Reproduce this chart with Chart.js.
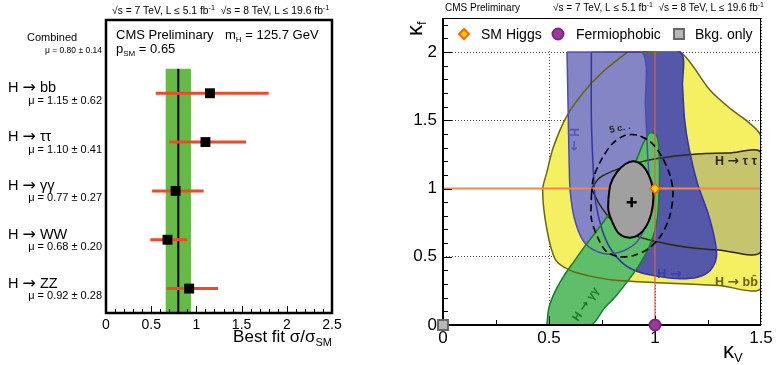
<!DOCTYPE html>
<html>
<head>
<meta charset="utf-8">
<script src="https://cdn.jsdelivr.net/npm/chart.js@4.4.1/dist/chart.umd.min.js"></script>
<style>
  body { margin: 0; background: #fff; }
  #left { position: absolute; left: 0; top: 0; }
  #right { position: absolute; left: 390px; top: 0; }
</style>
</head>
<body>
<canvas id="left" width="390" height="365"></canvas>
<canvas id="right" width="388" height="365"></canvas>
<script>
// ---- left panel: signal strength per channel
const channelNames = ["H \u2192 bb", "H \u2192 \u03c4\u03c4", "H \u2192 \u03b3\u03b3", "H \u2192 WW", "H \u2192 ZZ"];
const channelMuText = ["\u03bc = 1.15 \u00b1 0.62", "\u03bc = 1.10 \u00b1 0.41", "\u03bc = 0.77 \u00b1 0.27", "\u03bc = 0.68 \u00b1 0.20", "\u03bc = 0.92 \u00b1 0.28"];
const channelMu = [1.15, 1.10, 0.77, 0.68, 0.92];
const channelLow = [0.55, 0.70, 0.51, 0.49, 0.67];
const channelHigh = [1.80, 1.55, 1.08, 0.90, 1.24];
const channelRow = [4.5, 3.5, 2.5, 1.5, 0.5];
const combinedMu = 0.80;
const combinedLow = 0.66;
const combinedHigh = 0.94;
const combinedRow = 5.5;
const combinedText = "\u03bc = 0.80 \u00b1 0.14";
const muTicks = [0, 0.5, 1, 1.5, 2, 2.5];

// ---- right panel: kappa_V vs kappa_f contours
const kvTicks = [0, 0.5, 1, 1.5];
const kfTicks = [0, 0.5, 1, 1.5, 2];
const bbRegion = [[0.87, 2.0], [1.0, 2.0], [1.12, 2.0], [1.26, 1.72], [1.36, 1.58], [1.43, 1.50], [1.50, 1.38], [1.50, 0.80], [1.50, 0.27], [1.30, 0.29], [1.01, 0.31], [0.80, 0.33], [0.69, 0.36], [0.60, 0.40], [0.53, 0.48], [0.49, 0.70], [0.47, 0.99], [0.49, 1.12], [0.52, 1.30], [0.58, 1.52], [0.66, 1.70], [0.75, 1.85], [0.87, 2.0]];
const tautauRegion = [[0.70, 1.0], [0.74, 1.08], [0.82, 1.14], [0.92, 1.19], [1.01, 1.22], [1.17, 1.25], [1.35, 1.26], [1.50, 1.26], [1.50, 0.54], [1.30, 0.55], [1.15, 0.57], [1.01, 0.61], [0.88, 0.67], [0.80, 0.76], [0.74, 0.88], [0.70, 1.0]];
const zzRegion = [[0.70, 2.0], [0.70, 1.5], [0.71, 1.1], [0.72, 0.9], [0.75, 0.70], [0.79, 0.56], [0.85, 0.45], [0.92, 0.39], [1.00, 0.36], [1.10, 0.34], [1.20, 0.35], [1.26, 0.40], [1.29, 0.50], [1.28, 0.64], [1.25, 0.82], [1.20, 1.04], [1.16, 1.30], [1.14, 1.50], [1.13, 1.75], [1.12, 2.0], [0.90, 2.0], [0.70, 2.0]];
const wwRegion = [[0.585, 2.0], [0.59, 1.6], [0.595, 1.2], [0.60, 0.98], [0.62, 0.78], [0.66, 0.62], [0.71, 0.55], [0.78, 0.52], [0.86, 0.55], [0.92, 0.62], [0.96, 0.76], [0.975, 0.98], [0.965, 1.25], [0.955, 1.6], [0.94, 2.0], [0.75, 2.0], [0.585, 2.0]];
const ggRegion = [[0.49, 0.0], [0.50, 0.13], [0.53, 0.25], [0.57, 0.36], [0.62, 0.47], [0.67, 0.58], [0.73, 0.70], [0.80, 0.85], [0.86, 1.02], [0.91, 1.20], [0.95, 1.35], [0.98, 1.41], [1.01, 1.38], [1.02, 1.22], [1.02, 1.0], [1.01, 0.77], [0.98, 0.60], [0.93, 0.45], [0.88, 0.34], [0.82, 0.22], [0.76, 0.12], [0.70, 0.0], [0.60, 0.0], [0.49, 0.0]];
const comb68 = [[0.78, 0.92], [0.79, 1.03], [0.82, 1.12], [0.86, 1.18], [0.90, 1.20], [0.94, 1.17], [0.97, 1.10], [0.99, 1.00], [0.99, 0.88], [0.97, 0.76], [0.93, 0.67], [0.88, 0.64], [0.83, 0.67], [0.80, 0.75], [0.78, 0.84], [0.78, 0.92]];
const comb95 = [[0.70, 0.95], [0.71, 1.08], [0.75, 1.22], [0.80, 1.33], [0.86, 1.39], [0.92, 1.39], [0.98, 1.34], [1.03, 1.24], [1.07, 1.10], [1.085, 0.97], [1.07, 0.80], [1.03, 0.66], [0.97, 0.56], [0.90, 0.51], [0.83, 0.50], [0.77, 0.54], [0.73, 0.64], [0.70, 0.78], [0.70, 0.95]];
const bestFit = [0.89, 0.90];
const smPoint = [1, 1];
const fermiophobicPoint = [1, 0];
const bkgOnlyPoint = [0, 0];

const FONT = "'Liberation Sans', Arial, Helvetica, sans-serif";
const ARROW_FONT = "'DejaVu Sans', sans-serif";
Chart.defaults.font.family = FONT;
Chart.defaults.color = "#000";

function pts(list) {
    return list.map(p => ({x: p[0], y: p[1]}));
}

// parts: [text, size, dy, weight, family]
function richText(ctx, x, y, parts, align) {
    const setFont = p => { ctx.font = (p[3] || "") + " " + p[1] + "px " + (p[4] || FONT); };
    let w = 0;
    parts.forEach(p => { setFont(p); w += ctx.measureText(p[0]).width; });
    let cx = align === "right" ? x - w : x;
    ctx.textAlign = "left";
    ctx.textBaseline = "alphabetic";
    parts.forEach(p => {
        setFont(p);
        ctx.fillText(p[0], cx, y + (p[2] || 0));
        cx += ctx.measureText(p[0]).width;
    });
}

// splits a label on the arrow so the arrow gets a font with a full-size glyph
function arrowParts(text, size, weight) {
    const bits = text.split("\u2192");
    if (bits.length < 2) return [[text, size, 0, weight]];
    return [[bits[0], size, 0, weight], ["\u2192", size * 1.1, 0, weight, ARROW_FONT], [bits[1], size, 0, weight]];
}

function rotText(ctx, x, y, angle, parts) {
    ctx.save();
    ctx.translate(x, y);
    ctx.rotate(angle);
    richText(ctx, 0, 0, parts);
    ctx.restore();
}

const energyParts = size => [
    ["\u221As = 7 TeV, L \u2264 5.1 fb", size], ["-1", size * 0.7, -4],
    ["  \u221As = 8 TeV, L \u2264 19.6 fb", size], ["-1", size * 0.7, -4]
];

// ---------------- left chart
const leftDecor = {
    id: "leftDecor",
    afterDraw(chart) {
        const ctx = chart.ctx;
        const a = chart.chartArea;
        const xs = chart.scales.x, ys = chart.scales.y;
        ctx.save();
        // inward ticks on the bottom axis
        ctx.strokeStyle = "#000";
        ctx.lineWidth = 1;
        for (let i = 0; i <= 25; i++) {
            const px = Math.round(xs.getPixelForValue(i / 10)) + 0.5;
            const len = i % 5 === 0 ? 7 : 4;
            ctx.beginPath();
            ctx.moveTo(px, a.bottom);
            ctx.lineTo(px, a.bottom - len);
            ctx.stroke();
        }
        // frame
        ctx.lineWidth = 2.5;
        ctx.strokeRect(a.left, a.top, a.right - a.left, a.bottom - a.top);

        ctx.fillStyle = "#000";
        richText(ctx, 112, 14, energyParts(10.3));
        richText(ctx, 116, 39, [["CMS Preliminary", 13]]);
        richText(ctx, 225, 39, [["m", 13], ["H", 8, 3], [" = 125.7 GeV", 13]]);
        richText(ctx, 116, 53, [["p", 13], ["SM", 8, 3], [" = 0.65", 13]]);

        const cy = ys.getPixelForValue(combinedRow);
        richText(ctx, 27, cy - 3, [["Combined", 11]]);
        richText(ctx, 102, cy + 8.5, [[combinedText, 8.5]], "right");
        channelNames.forEach((name, i) => {
            const py = ys.getPixelForValue(channelRow[i]);
            richText(ctx, 8, py - 1, arrowParts(name, 14.5));
            richText(ctx, 102, py + 10.5, [[channelMuText[i], 11]], "right");
        });
        richText(ctx, a.right, 342, [["Best fit \u03c3/\u03c3", 17], ["SM", 11, 4]], "right");
        ctx.restore();
    }
};

const leftSets = [];
leftSets.push({
    data: pts([[combinedLow, 0], [combinedLow, 5], [combinedHigh, 5], [combinedHigh, 0]]),
    fill: "shape", backgroundColor: "#66bb46", borderColor: "transparent", borderWidth: 0,
    pointRadius: 0, order: 10
});
leftSets.push({
    data: pts([[combinedMu, 0], [combinedMu, 5]]),
    borderColor: "#000", borderWidth: 2, pointRadius: 0, order: 9
});
channelMu.forEach((m, i) => {
    leftSets.push({
        data: pts([[channelLow[i], channelRow[i]], [channelHigh[i], channelRow[i]]]),
        borderColor: "#ee4a26", borderWidth: 3, pointRadius: 0, order: 8
    });
});
leftSets.push({
    data: channelMu.map((m, i) => ({x: m, y: channelRow[i]})),
    showLine: false, pointStyle: "rect", pointRadius: 7, backgroundColor: "#000",
    borderColor: "#000", borderWidth: 0, order: 1
});

new Chart(document.getElementById("left"), {
    type: "line",
    data: {datasets: leftSets},
    options: {
        responsive: false, animation: false, events: [],
        layout: {padding: {left: 106, right: 58, top: 20, bottom: 0}},
        plugins: {legend: {display: false}, tooltip: {enabled: false}},
        scales: {
            x: {
                type: "linear", min: 0, max: 2.5,
                grid: {display: false}, border: {display: false},
                afterFit: s => { s.height = 52; },
                afterBuildTicks: s => { s.ticks = muTicks.map(v => ({value: v})); },
                ticks: {font: {size: 14}, color: "#000", padding: -4, maxRotation: 0, autoSkip: false,
                        callback: v => String(v)}
            },
            y: {type: "linear", min: 0, max: 6, display: false}
        }
    },
    plugins: [leftDecor]
});

// ---------------- right chart
function region(list, color, order) {
    return {data: pts(list), fill: "shape", backgroundColor: color, borderColor: "transparent",
            borderWidth: 0, pointRadius: 0, tension: 0.3, order: order};
}
function outline(list, color, width, order, dash) {
    return {data: pts(list), fill: false, borderColor: color, borderWidth: width,
            borderDash: dash || [], pointRadius: 0, tension: 0.3, order: order};
}

function drawP2(ctx, x, y, style, r, fill, stroke, bw) {
    ctx.fillStyle = fill; ctx.strokeStyle = stroke;
    Chart.helpers.drawPoint(ctx, {pointStyle: style, radius: r, borderWidth: bw, rotation: 0}, x, y);
}

const rightDecor = {
    id: "rightDecor",
    afterDatasetsDraw(chart) {
        // legend area above kappa_f = 2 is kept white
        const ctx = chart.ctx;
        const a = chart.chartArea;
        const y2 = chart.scales.y.getPixelForValue(2);
        ctx.save();
        ctx.fillStyle = "#fff";
        ctx.fillRect(a.left, a.top, a.right - a.left, y2 - a.top - 1);
        ctx.restore();
    },
    afterDraw(chart) {
        const ctx = chart.ctx;
        const a = chart.chartArea;
        const xs = chart.scales.x, ys = chart.scales.y;
        ctx.save();
        ctx.strokeStyle = "#000";
        ctx.lineWidth = 1;
        for (let i = 1; i <= 22; i++) {
            const py = Math.round(ys.getPixelForValue(i / 10)) + 0.5;
            const len = i % 5 === 0 ? 9 : 5;
            ctx.beginPath(); ctx.moveTo(a.left, py); ctx.lineTo(a.left + len, py); ctx.stroke();
        }
        for (let i = 1; i < 6; i++) {
            const px = Math.round(xs.getPixelForValue(i / 4)) + 0.5;
            const len = i % 2 === 0 ? 9 : 5;
            ctx.beginPath(); ctx.moveTo(px, a.bottom); ctx.lineTo(px, a.bottom - len); ctx.stroke();
        }
        ctx.lineWidth = 1;
        ctx.strokeRect(a.left + 0.5, a.top + 0.5, a.right - a.left - 1, a.bottom - a.top);
        ctx.lineWidth = 2;
        ctx.beginPath();
        ctx.moveTo(a.left, a.top); ctx.lineTo(a.left, a.bottom); ctx.lineTo(a.right, a.bottom);
        ctx.stroke();

        // in-plot markers drawn over the axes
        drawP2(ctx, xs.getPixelForValue(fermiophobicPoint[0]), ys.getPixelForValue(fermiophobicPoint[1]),
               "circle", 5.5, "#9b3a9e", "#7a2a80", 1);
        drawP2(ctx, xs.getPixelForValue(bkgOnlyPoint[0]), ys.getPixelForValue(bkgOnlyPoint[1]),
               "rect", 7, "#b8b8b8", "#666", 1.2);

        // legend
        const ly = a.top + 16;
        drawP2(ctx, a.left + 21, ly, "rectRot", 5, "#ffd000", "#ff6000", 1.6);
        drawP2(ctx, a.left + 115, ly, "circle", 5.5, "#9b3a9e", "#7a2a80", 1);
        drawP2(ctx, a.left + 236, ly, "rect", 7, "#b8b8b8", "#666", 1.2);
        ctx.fillStyle = "#000";
        richText(ctx, a.left + 38, ly + 5, [["SM Higgs", 14]]);
        richText(ctx, a.left + 133, ly + 5, [["Fermiophobic", 14]]);
        richText(ctx, a.left + 252, ly + 5, [["Bkg. only", 14]]);

        richText(ctx, 55, 11, [["CMS Preliminary", 10]]);
        richText(ctx, 163, 11, energyParts(10));
        rotText(ctx, 32, 36, -Math.PI / 2, [["\u03ba", 22], ["f", 13, 4]]);
        richText(ctx, 333, 358, [["\u03ba", 22], ["V", 13, 4]]);

        // channel labels
        const P = (x, y) => [xs.getPixelForValue(x), ys.getPixelForValue(y)];
        let q = P(1.283, 1.172);
        ctx.fillStyle = "#2e2c08";
        richText(ctx, q[0], q[1], arrowParts("H \u2192 \u03c4 \u03c4", 12.5, "bold"));
        q = P(1.283, 0.286);
        ctx.fillStyle = "#66600e";
        richText(ctx, q[0], q[1], arrowParts("H \u2192 bb\u0304", 12.5, "bold"));
        q = P(1.009, 0.344);
        ctx.fillStyle = "#3a3cb0";
        richText(ctx, q[0], q[1], arrowParts("H \u2192", 13, "bold"));
        q = P(0.599, 1.443);
        ctx.fillStyle = "#5456b6";
        rotText(ctx, q[0], q[1], Math.PI / 2, arrowParts("H \u2192", 12, "bold"));
        q = P(0.637, 0.022);
        ctx.fillStyle = "#1c7a2c";
        rotText(ctx, q[0], q[1], -0.98, arrowParts("H \u2192 \u03b3\u03b3", 11.5, "bold"));
        q = P(0.788, 1.407);
        ctx.fillStyle = "#222";
        rotText(ctx, q[0], q[1], -0.2, [["5 c. .", 9.5, 0, "bold"]]);
        ctx.restore();
    }
};

const rightSets = [
    region(bbRegion, "#f5ef62", 20),
    region(tautauRegion, "#c6c56d", 19),
    region(zzRegion, "#5557a8", 18),
    region(wwRegion, "#8385c4", 17),
    region(ggRegion, "#5fbe69", 16),
    outline(bbRegion, "#6b6410", 1.5, 15),
    outline(tautauRegion, "#2e2a0a", 1.5, 14),
    outline(zzRegion, "#3434a2", 1.5, 13),
    outline(wwRegion, "#4a4cb2", 1.5, 12),
    outline(ggRegion, "#1f7a2e", 1.5, 11),
    {data: pts([[0, smPoint[1]], [1.5, smPoint[1]]]), borderColor: "#ee8a4c", borderWidth: 2, pointRadius: 0, order: 10},
    {data: pts([[smPoint[0], 0], [smPoint[0], 2]]), borderColor: "#e0604a", borderWidth: 1.2, pointRadius: 0, order: 9},
    {data: pts(comb68), fill: "shape", backgroundColor: "#a0a0a0", borderColor: "#000", borderWidth: 2,
     pointRadius: 0, tension: 0.3, order: 8},
    outline(comb95, "#000", 1.6, 7, [7, 4]),
    {data: pts([bestFit]), showLine: false, pointStyle: "cross", pointRadius: 5, borderColor: "#000",
     borderWidth: 2.5, order: 3},
    {data: pts([smPoint]), showLine: false, pointStyle: "rectRot", pointRadius: 5, backgroundColor: "#ffd000",
     borderColor: "#ff6000", borderWidth: 1.6, order: 2}
];

new Chart(document.getElementById("right"), {
    type: "line",
    data: {datasets: rightSets},
    options: {
        responsive: false, animation: false, events: [],
        layout: {padding: {left: 0, right: 17, top: 18, bottom: 0}},
        plugins: {legend: {display: false}, tooltip: {enabled: false}},
        scales: {
            x: {
                type: "linear", min: 0, max: 1.5,
                grid: {color: "#444", lineWidth: 1, drawTicks: false},
                border: {display: false, dash: [1, 2]},
                afterFit: s => { s.height = 40; },
                afterBuildTicks: s => { s.ticks = kvTicks.map(v => ({value: v})); },
                ticks: {font: {size: 17}, color: "#000", padding: 3, maxRotation: 0, autoSkip: false,
                        callback: v => String(v)}
            },
            y: {
                type: "linear", min: 0, max: 2.25,
                grid: {color: "#444", lineWidth: 1, drawTicks: false},
                border: {display: false, dash: [1, 2]},
                afterFit: s => { s.width = 53; },
                afterBuildTicks: s => { s.ticks = kfTicks.map(v => ({value: v})); },
                ticks: {font: {size: 17}, color: "#000", padding: 6, autoSkip: false,
                        callback: v => String(v)}
            }
        }
    },
    plugins: [rightDecor]
});
</script>
</body>
</html>
